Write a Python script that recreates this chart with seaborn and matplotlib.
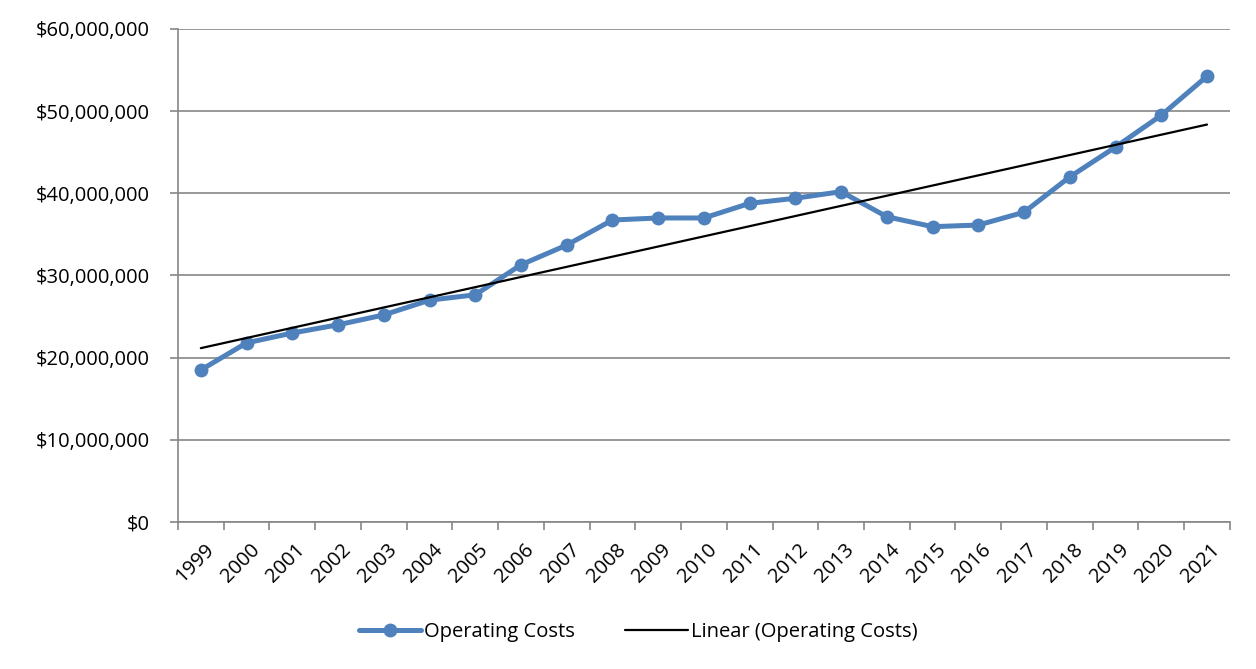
import numpy as np
import pandas as pd
import matplotlib
matplotlib.use("Agg")
import matplotlib.pyplot as plt
import seaborn as sns
from matplotlib.ticker import FuncFormatter, FixedLocator
from matplotlib.lines import Line2D

# data (dollars)
years = [str(y) for y in range(1999, 2022)]
operating_costs = [
    18_500_000, 21_800_000, 23_000_000, 24_000_000, 25_200_000, 27_000_000,
    27_650_000, 31_300_000, 33_700_000, 36_750_000, 37_000_000, 37_000_000,
    38_780_000, 39_400_000, 40_200_000, 37_150_000, 35_940_000, 36_140_000,
    37_700_000, 42_000_000, 45_630_000, 49_500_000, 54_250_000,
]

df = pd.DataFrame({"idx": np.arange(len(years)), "year": years, "cost": operating_costs})

sns.set_style("white")
plt.rcParams["font.family"] = ["Open Sans", "DejaVu Sans"]
plt.rcParams["text.color"] = "black"
plt.rcParams["xtick.labelcolor"] = "black"
plt.rcParams["ytick.labelcolor"] = "black"

blue = "#4F81BD"
grid_gray = "#868686"
fs = 14.5

fig = plt.figure(figsize=(12.56, 6.69), dpi=100)
ax = fig.add_axes([0.1417, 0.2197, 0.8375, 0.737])

sns.lineplot(data=df, x="idx", y="cost", ax=ax, color=blue, linewidth=3.6,
             marker="o", markersize=10, markeredgewidth=0, zorder=3)

# linear trendline, like Excel's "Linear (...)"
sns.regplot(data=df, x="idx", y="cost", ax=ax, scatter=False, ci=None, truncate=True,
            line_kws={"color": "black", "linewidth": 1.6, "zorder": 4})

ax.set_xlim(-0.5, len(years) - 0.5)
ax.set_ylim(0, 60_000_000)
ax.set_yticks(np.arange(0, 60_000_001, 10_000_000))
ax.yaxis.set_major_formatter(FuncFormatter(lambda v, p: "${:,.0f}".format(v)))
ax.grid(axis="y", color=grid_gray, linewidth=1.2)
ax.set_axisbelow(True)

# category labels at centers, tick marks at boundaries
ax.set_xticks(df["idx"])
ax.set_xticklabels(years, rotation=45, ha="right", rotation_mode="anchor")
ax.xaxis.set_minor_locator(FixedLocator(np.arange(-0.5, len(years), 1)))
ax.tick_params(axis="x", which="major", bottom=False, length=0, pad=13, labelsize=fs, labelcolor="black")
ax.tick_params(axis="x", which="minor", bottom=True, length=6, width=1.2, color=grid_gray, direction="out")
ax.tick_params(axis="y", left=True, length=6, width=1.2, color=grid_gray, direction="out",
               labelsize=fs, pad=14, labelcolor="black")
for lbl in ax.get_xticklabels():
    lbl.set_transform(lbl.get_transform() + matplotlib.transforms.ScaledTranslation(0.03, 0, fig.dpi_scale_trans))

ax.set_xlabel("")
ax.set_ylabel("")
for side in ["top", "right"]:
    ax.spines[side].set_visible(False)
for side in ["left", "bottom"]:
    ax.spines[side].set_color(grid_gray)
    ax.spines[side].set_linewidth(1.2)

handles = [
    Line2D([], [], color=blue, linewidth=3.6, marker="o", markersize=10, markeredgewidth=0),
    Line2D([], [], color="black", linewidth=1.6),
]
fig.legend(handles, ["Operating Costs", "Linear (Operating Costs)"], loc="center",
           bbox_to_anchor=(0.508, 0.055), ncol=2, frameon=False, fontsize=fs,
           handlelength=3.1, handletextpad=0.15, columnspacing=2.5, labelcolor="black")

fig.savefig("out.png", dpi=100)
